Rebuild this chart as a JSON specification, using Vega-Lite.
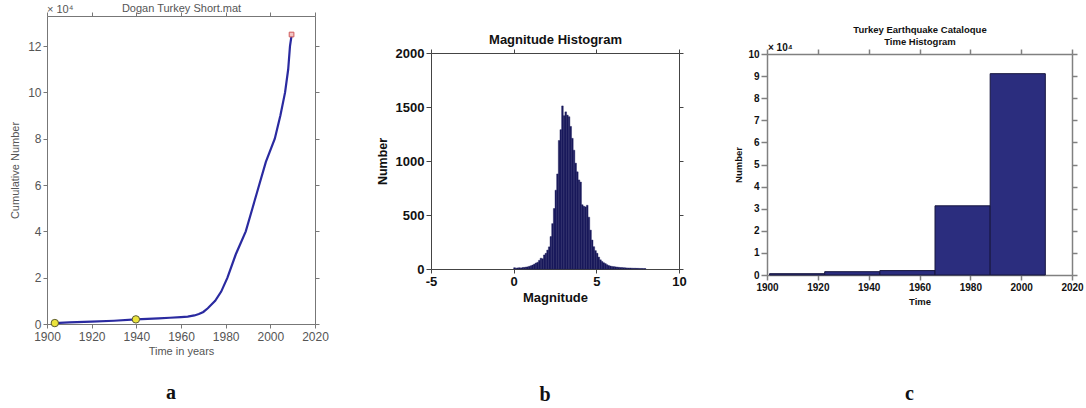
{
  "$schema": "https://vega.github.io/schema/vega-lite/v6.json",
  "background": "white",
  "padding": {"left": 9, "top": 2, "right": 0, "bottom": 0},
  "config": {
    "view": {"stroke": null},
    "axis": {"grid": false, "labelFlush": false, "labelFont": "Liberation Sans", "titleFont": "Liberation Sans"},
    "title": {"font": "Liberation Serif"}
  },
  "spacing": 47,
  "hconcat": [
    {
      "width": 268,
      "height": 308,
      "title": {"text": "a", "orient": "bottom", "fontSize": 20, "fontWeight": "bold", "color": "#111111", "offset": 27, "dx": -10},
      "layer": [
        {
          "data": {"values": [
            {"year": 1903.3, "cum": 400}, {"year": 1910, "cum": 700}, {"year": 1920, "cum": 1000},
            {"year": 1930, "cum": 1400}, {"year": 1939.8, "cum": 2000}, {"year": 1945, "cum": 2200},
            {"year": 1950, "cum": 2450}, {"year": 1955, "cum": 2700}, {"year": 1960, "cum": 3000},
            {"year": 1963, "cum": 3200}, {"year": 1966, "cum": 3700}, {"year": 1968, "cum": 4300},
            {"year": 1970, "cum": 5200}, {"year": 1972, "cum": 6800}, {"year": 1975.3, "cum": 10000},
            {"year": 1978, "cum": 14000}, {"year": 1980.8, "cum": 20000}, {"year": 1984.5, "cum": 30000},
            {"year": 1989, "cum": 40000}, {"year": 1992, "cum": 50000}, {"year": 1995, "cum": 60000},
            {"year": 1998, "cum": 70000}, {"year": 2002, "cum": 80000}, {"year": 2004.5, "cum": 90000},
            {"year": 2006.6, "cum": 100000}, {"year": 2008, "cum": 110000}, {"year": 2008.8, "cum": 120000},
            {"year": 2009.5, "cum": 124500}
          ]},
          "mark": {"type": "line", "color": "#2a2aa0", "strokeWidth": 2.2},
          "encoding": {
            "x": {"field": "year", "type": "quantitative",
              "scale": {"domain": [1900, 2020], "nice": false, "zero": false},
              "axis": {"orient": "bottom", "values": [1900, 1920, 1940, 1960, 1980, 2000, 2020], "format": "d",
                "title": "Time in years", "titleFontSize": 11, "titleFontWeight": "normal", "titleColor": "#555555", "titlePadding": 3,
                "labelFontSize": 12, "labelColor": "#555555", "labelPadding": 3, "tickSize": 4,
                "domainColor": "#777777", "tickColor": "#777777"}},
            "y": {"field": "cum", "type": "quantitative",
              "scale": {"domain": [0, 133000], "nice": false},
              "axis": {"orient": "left", "values": [0, 20000, 40000, 60000, 80000, 100000, 120000], "labelExpr": "datum.value / 10000",
                "title": "Cumulative Number", "titleFontSize": 11, "titleFontWeight": "normal", "titleColor": "#555555", "titlePadding": 7,
                "labelFontSize": 12, "labelColor": "#555555", "labelPadding": 2, "tickSize": 4,
                "domainColor": "#777777", "tickColor": "#777777"}}
          }
        },
        {
          "data": {"values": [{"year": 1903.5, "cum": 400}, {"year": 1939.8, "cum": 2000}]},
          "mark": {"type": "point", "shape": "circle", "filled": true, "fill": "#ece43c", "stroke": "#5a5a30", "strokeWidth": 1, "size": 55, "opacity": 1},
          "encoding": {
            "x": {"field": "year", "type": "quantitative", "scale": {"domain": [1900, 2020], "nice": false, "zero": false},
              "axis": {"orient": "top", "values": [1900, 1920, 1940, 1960, 1980, 2000, 2020], "labels": false,
                "title": "Dogan Turkey Short.mat", "titleFontSize": 11, "titleFontWeight": "normal", "titleColor": "#555555", "titlePadding": -2,
                "tickSize": 4, "domainColor": "#777777", "tickColor": "#777777"}},
            "y": {"field": "cum", "type": "quantitative", "scale": {"domain": [0, 133000], "nice": false},
              "axis": {"orient": "right", "values": [0, 20000, 40000, 60000, 80000, 100000, 120000], "labels": false, "title": null,
                "tickSize": 4, "domainColor": "#777777", "tickColor": "#777777"}}
          }
        },
        {
          "data": {"values": [{"year": 2009.5, "cum": 125000}]},
          "mark": {"type": "point", "shape": "square", "filled": true, "fill": "#f2c4c4", "stroke": "#d05a5a", "strokeWidth": 1, "size": 22, "opacity": 1},
          "encoding": {
            "x": {"field": "year", "type": "quantitative", "scale": {"domain": [1900, 2020], "nice": false, "zero": false}, "axis": null},
            "y": {"field": "cum", "type": "quantitative", "scale": {"domain": [0, 133000], "nice": false}, "axis": null}
          }
        },
        {
          "data": {"values": [{"note": "× 10⁴"}]},
          "mark": {"type": "text", "align": "left", "baseline": "bottom", "dy": -1, "font": "Liberation Sans", "fontSize": 11, "color": "#555555"},
          "encoding": {
            "x": {"datum": 1900, "type": "quantitative", "scale": {"domain": [1900, 2020], "nice": false, "zero": false}, "axis": null},
            "y": {"datum": 133000, "type": "quantitative", "scale": {"domain": [0, 133000], "nice": false}, "axis": null},
            "text": {"field": "note"}
          }
        }
      ],
      "resolve": {"axis": {"x": "independent", "y": "independent"}}
    },
    {
      "spacing": 46,
      "hconcat": [
        {
          "spacing": 0,
          "vconcat": [
            {"width": 10, "height": 17, "data": {"values": []}, "mark": {"type": "point", "opacity": 0}, "encoding": {}},
            {
              "width": 248,
              "height": 216,
              "title": {"text": "b", "orient": "bottom", "fontSize": 20, "fontWeight": "bold", "color": "#111111", "offset": 81, "dx": -10},
              "layer": [
                {
                  "data": {"name": "magnitudes", "values": [
                    {"m0": 0.0, "m1": 0.1, "n": 12}, {"m0": 0.1, "m1": 0.2, "n": 8}, {"m0": 0.2, "m1": 0.3, "n": 10},
                    {"m0": 0.3, "m1": 0.4, "n": 12}, {"m0": 0.4, "m1": 0.5, "n": 10}, {"m0": 0.5, "m1": 0.6, "n": 14},
                    {"m0": 0.6, "m1": 0.7, "n": 15}, {"m0": 0.7, "m1": 0.8, "n": 18}, {"m0": 0.8, "m1": 0.9, "n": 20},
                    {"m0": 0.9, "m1": 1.0, "n": 25}, {"m0": 1.0, "m1": 1.1, "n": 30}, {"m0": 1.1, "m1": 1.2, "n": 37},
                    {"m0": 1.2, "m1": 1.3, "n": 45}, {"m0": 1.3, "m1": 1.4, "n": 55}, {"m0": 1.4, "m1": 1.5, "n": 62},
                    {"m0": 1.5, "m1": 1.6, "n": 80}, {"m0": 1.6, "m1": 1.7, "n": 100}, {"m0": 1.7, "m1": 1.8, "n": 95},
                    {"m0": 1.8, "m1": 1.9, "n": 130}, {"m0": 1.9, "m1": 2.0, "n": 145}, {"m0": 2.0, "m1": 2.1, "n": 175},
                    {"m0": 2.1, "m1": 2.2, "n": 205}, {"m0": 2.2, "m1": 2.3, "n": 300}, {"m0": 2.3, "m1": 2.4, "n": 420},
                    {"m0": 2.4, "m1": 2.5, "n": 560}, {"m0": 2.5, "m1": 2.6, "n": 730}, {"m0": 2.6, "m1": 2.7, "n": 880},
                    {"m0": 2.7, "m1": 2.8, "n": 1190}, {"m0": 2.8, "m1": 2.9, "n": 1290}, {"m0": 2.9, "m1": 3.0, "n": 1510},
                    {"m0": 3.0, "m1": 3.1, "n": 1420}, {"m0": 3.1, "m1": 3.2, "n": 1455}, {"m0": 3.2, "m1": 3.3, "n": 1425},
                    {"m0": 3.3, "m1": 3.4, "n": 1410}, {"m0": 3.4, "m1": 3.5, "n": 1320}, {"m0": 3.5, "m1": 3.6, "n": 1210},
                    {"m0": 3.6, "m1": 3.7, "n": 1100}, {"m0": 3.7, "m1": 3.8, "n": 980}, {"m0": 3.8, "m1": 3.9, "n": 900},
                    {"m0": 3.9, "m1": 4.0, "n": 825}, {"m0": 4.0, "m1": 4.1, "n": 805}, {"m0": 4.1, "m1": 4.2, "n": 595},
                    {"m0": 4.2, "m1": 4.3, "n": 580}, {"m0": 4.3, "m1": 4.4, "n": 575}, {"m0": 4.4, "m1": 4.5, "n": 590},
                    {"m0": 4.5, "m1": 4.6, "n": 480}, {"m0": 4.6, "m1": 4.7, "n": 360}, {"m0": 4.7, "m1": 4.8, "n": 268},
                    {"m0": 4.8, "m1": 4.9, "n": 207}, {"m0": 4.9, "m1": 5.0, "n": 170}, {"m0": 5.0, "m1": 5.1, "n": 145},
                    {"m0": 5.1, "m1": 5.2, "n": 110}, {"m0": 5.2, "m1": 5.3, "n": 85}, {"m0": 5.3, "m1": 5.4, "n": 70},
                    {"m0": 5.4, "m1": 5.5, "n": 58}, {"m0": 5.5, "m1": 5.6, "n": 50}, {"m0": 5.6, "m1": 5.7, "n": 40},
                    {"m0": 5.7, "m1": 5.8, "n": 32}, {"m0": 5.8, "m1": 5.9, "n": 28}, {"m0": 5.9, "m1": 6.0, "n": 24},
                    {"m0": 6.0, "m1": 6.1, "n": 22}, {"m0": 6.1, "m1": 6.2, "n": 20}, {"m0": 6.2, "m1": 6.3, "n": 18},
                    {"m0": 6.3, "m1": 6.4, "n": 16}, {"m0": 6.4, "m1": 6.5, "n": 14}, {"m0": 6.5, "m1": 6.6, "n": 13},
                    {"m0": 6.6, "m1": 6.7, "n": 12}, {"m0": 6.7, "m1": 6.8, "n": 11}, {"m0": 6.8, "m1": 6.9, "n": 10},
                    {"m0": 6.9, "m1": 7.0, "n": 9}, {"m0": 7.0, "m1": 7.1, "n": 9}, {"m0": 7.1, "m1": 7.2, "n": 8},
                    {"m0": 7.2, "m1": 7.3, "n": 7}, {"m0": 7.3, "m1": 7.4, "n": 7}, {"m0": 7.4, "m1": 7.5, "n": 6},
                    {"m0": 7.5, "m1": 7.6, "n": 6}, {"m0": 7.6, "m1": 7.7, "n": 5}, {"m0": 7.7, "m1": 7.8, "n": 5},
                    {"m0": 7.8, "m1": 7.9, "n": 4}, {"m0": 7.9, "m1": 8.0, "n": 4}
                  ]},
                  "mark": {"type": "rect", "fill": "#1a1a5c", "stroke": "#1a1a5c", "strokeWidth": 0.4},
                  "encoding": {
                    "x": {"field": "m0", "type": "quantitative", "scale": {"domain": [-5, 10], "nice": false, "zero": false},
                      "axis": {"orient": "bottom", "values": [-5, 0, 5, 10], "labelExpr": "'' + datum.value", "title": "Magnitude",
                        "titleFontSize": 13, "titleFontWeight": "bold", "titleColor": "#111111", "titlePadding": 3,
                        "labelFontSize": 13, "labelFontWeight": "bold", "labelColor": "#111111", "labelPadding": 2, "tickSize": 4,
                        "domainColor": "#444444", "tickColor": "#444444"}},
                    "x2": {"field": "m1"},
                    "y": {"field": "n", "type": "quantitative", "scale": {"domain": [0, 2000], "nice": false},
                      "axis": {"orient": "left", "values": [0, 500, 1000, 1500, 2000], "format": "d", "title": "Number",
                        "titleFontSize": 12.5, "titleFontWeight": "bold", "titleColor": "#111111", "titlePadding": 6,
                        "labelFontSize": 13, "labelFontWeight": "bold", "labelColor": "#111111", "labelPadding": 2, "tickSize": 5,
                        "domainColor": "#444444", "tickColor": "#444444"}},
                    "y2": {"datum": 0}
                  }
                },
                {
                  "data": {"name": "magnitudes"},
                  "mark": {"type": "point", "opacity": 0},
                  "encoding": {
                    "x": {"field": "m0", "type": "quantitative", "scale": {"domain": [-5, 10], "nice": false, "zero": false},
                      "axis": {"orient": "top", "values": [-5, 0, 5, 10], "labels": false, "title": "Magnitude Histogram",
                        "titleFontSize": 13, "titleFontWeight": "bold", "titleColor": "#111111", "titlePadding": 2, "tickSize": 4,
                        "domainColor": "#444444", "tickColor": "#444444"}},
                    "y": {"field": "n", "type": "quantitative", "scale": {"domain": [0, 2000], "nice": false},
                      "axis": {"orient": "right", "values": [0, 500, 1000, 1500, 2000], "labels": false, "title": null, "tickSize": 4,
                        "domainColor": "#444444", "tickColor": "#444444"}}
                  }
                }
              ],
              "resolve": {"axis": {"x": "independent", "y": "independent"}}
            }
          ]
        },
        {
          "spacing": 0,
          "vconcat": [
            {"width": 10, "height": 8, "data": {"values": []}, "mark": {"type": "point", "opacity": 0}, "encoding": {}},
            {
              "width": 305,
              "height": 221,
              "title": {"text": "c", "orient": "bottom", "fontSize": 20, "fontWeight": "bold", "color": "#111111", "offset": 78, "dx": -10},
              "layer": [
                {
                  "data": {"name": "periods", "values": [
                    {"t0": 1901.0, "t1": 1922.7, "n": 600},
                    {"t0": 1922.7, "t1": 1944.4, "n": 1500},
                    {"t0": 1944.4, "t1": 1966.1, "n": 2000},
                    {"t0": 1966.1, "t1": 1987.8, "n": 31300},
                    {"t0": 1987.8, "t1": 2009.5, "n": 91100}
                  ]},
                  "mark": {"type": "rect", "fill": "#2b2d7e", "stroke": "#16163f", "strokeWidth": 1},
                  "encoding": {
                    "x": {"field": "t0", "type": "quantitative", "scale": {"domain": [1900, 2020], "nice": false, "zero": false},
                      "axis": {"orient": "bottom", "values": [1900, 1920, 1940, 1960, 1980, 2000, 2020], "format": "d", "title": "Time",
                        "titleFontSize": 9.5, "titleFontWeight": "bold", "titleColor": "#111111", "titlePadding": 4,
                        "labelFontSize": 10, "labelFontWeight": "bold", "labelColor": "#111111", "labelPadding": 2, "tickSize": 5,
                        "domainColor": "#808080", "domainWidth": 1.5, "tickColor": "#808080", "tickWidth": 1.5}},
                    "x2": {"field": "t1"},
                    "y": {"field": "n", "type": "quantitative", "scale": {"domain": [0, 100000], "nice": false},
                      "axis": {"orient": "left", "values": [0, 10000, 20000, 30000, 40000, 50000, 60000, 70000, 80000, 90000, 100000],
                        "labelExpr": "datum.value / 10000", "title": "Number",
                        "titleFontSize": 9.5, "titleFontWeight": "bold", "titleColor": "#111111", "titlePadding": 4,
                        "labelFontSize": 10, "labelFontWeight": "bold", "labelColor": "#111111", "labelPadding": 2, "tickSize": 6,
                        "domainColor": "#808080", "domainWidth": 1.5, "tickColor": "#808080", "tickWidth": 1.5}},
                    "y2": {"datum": 0}
                  }
                },
                {
                  "data": {"name": "periods"},
                  "mark": {"type": "point", "opacity": 0},
                  "encoding": {
                    "x": {"field": "t0", "type": "quantitative", "scale": {"domain": [1900, 2020], "nice": false, "zero": false},
                      "axis": {"orient": "top", "values": [1900, 1920, 1940, 1960, 1980, 2000, 2020], "labels": false,
                        "title": ["Turkey Earthquake Cataloque", "Time Histogram"], "titleLineHeight": 11.5,
                        "titleFontSize": 9.5, "titleFontWeight": "bold", "titleColor": "#111111", "titlePadding": 2, "tickSize": 5,
                        "domainColor": "#808080", "domainWidth": 1.5, "tickColor": "#808080", "tickWidth": 1.5}},
                    "y": {"field": "n", "type": "quantitative", "scale": {"domain": [0, 100000], "nice": false},
                      "axis": {"orient": "right", "values": [0, 10000, 20000, 30000, 40000, 50000, 60000, 70000, 80000, 90000, 100000],
                        "labels": false, "title": null, "tickSize": 5,
                        "domainColor": "#808080", "domainWidth": 1.5, "tickColor": "#808080", "tickWidth": 1.5}}
                  }
                },
                {
                  "data": {"values": [{"note": "× 10⁴"}]},
                  "mark": {"type": "text", "align": "left", "baseline": "bottom", "dx": 1, "dy": -1, "font": "Liberation Sans", "fontSize": 10, "fontWeight": "bold", "color": "#111111"},
                  "encoding": {
                    "x": {"datum": 1900, "type": "quantitative", "scale": {"domain": [1900, 2020], "nice": false, "zero": false}, "axis": null},
                    "y": {"datum": 100000, "type": "quantitative", "scale": {"domain": [0, 100000], "nice": false}, "axis": null},
                    "text": {"field": "note"}
                  }
                }
              ],
              "resolve": {"axis": {"x": "independent", "y": "independent"}}
            }
          ]
        }
      ]
    }
  ]
}
